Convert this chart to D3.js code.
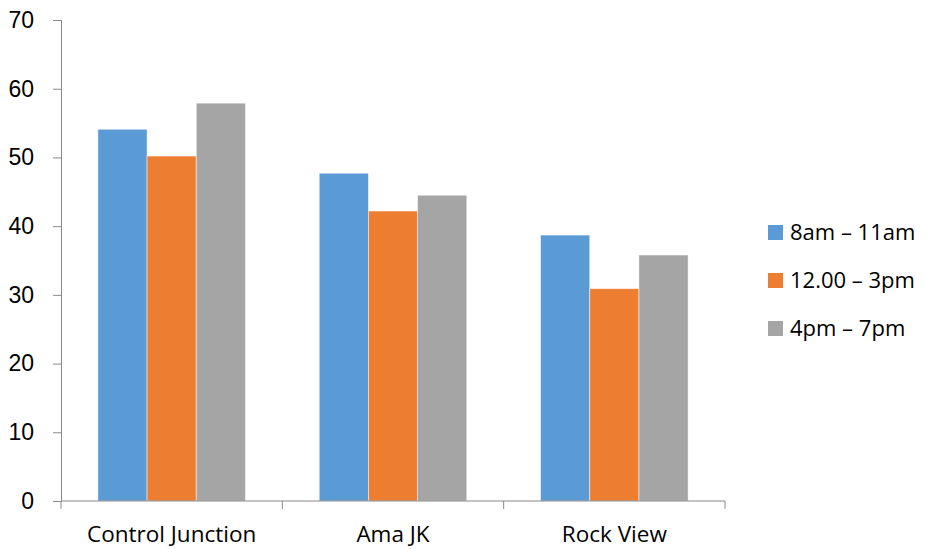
<!DOCTYPE html>
<html><head><meta charset="utf-8">
<script src="https://d3js.org/d3.v7.min.js"></script>
<style>body{margin:0;background:#fff}svg{display:block}text{font-family:"Open Sans",Lato,sans-serif;fill:#000}</style>
</head><body><svg id="c" width="927" height="549"></svg>
<script>
const categories = ["Control Junction", "Ama JK", "Rock View"];
const seriesNames = ["8am – 11am", "12.00 – 3pm", "4pm – 7pm"];
const morning = [54.1, 47.7, 38.7];
const midday = [50.2, 42.2, 30.9];
const evening = [57.9, 44.5, 35.8];
const yTicks = [0, 10, 20, 30, 40, 50, 60, 70];
const colors = ["#5B9BD5", "#ED7D31", "#A5A5A5"];
const seriesValues = [morning, midday, evening];

const svg = d3.select("#c");
const m = {left: 61, right: 725, top: 20, bottom: 501};
const x0 = d3.scaleBand().domain(categories).range([m.left, m.right]).paddingInner(0).paddingOuter(0);
const x1 = d3.scaleBand().domain(seriesNames).range([0, x0.bandwidth()]).paddingOuter(0.75).paddingInner(0);
const y = d3.scaleLinear().domain([0, 70]).range([m.bottom, m.top]);

// bars
categories.forEach((c, ci) => {
  seriesNames.forEach((s, si) => {
    svg.append("rect")
      .attr("x", x0(c) + x1(s))
      .attr("y", y(seriesValues[si][ci]))
      .attr("width", x1.bandwidth())
      .attr("height", y(0) - y(seriesValues[si][ci]))
      .attr("fill", colors[si])
      .attr("stroke", "#ffffff").attr("stroke-opacity", 0.6).attr("stroke-width", 0.8);
  });
});

// y axis
const yAxis = d3.axisLeft(y).tickValues(yTicks).tickSize(8).tickPadding(19);
const gy = svg.append("g").attr("transform", `translate(${m.left},0)`).call(yAxis);
gy.select(".domain").attr("stroke", "#898989");
gy.selectAll(".tick line").attr("stroke", "#898989");
gy.selectAll(".tick text").style("font-family", "Liberation Sans, Arial, sans-serif").attr("font-size", 23).attr("fill", "#000");

// x axis
const gx = svg.append("g").attr("transform", `translate(0,${m.bottom})`);
gx.append("line").attr("x1", m.left).attr("x2", m.right).attr("y1", 0).attr("y2", 0).attr("stroke", "#898989");
const bounds = categories.map(c => x0(c)).concat([m.right]);
gx.selectAll("line.tk").data(bounds).enter().append("line").attr("class", "tk")
  .attr("x1", d => d).attr("x2", d => d).attr("y1", 0).attr("y2", 8).attr("stroke", "#898989");
gx.selectAll("text.cat").data(categories).enter().append("text").attr("class", "cat")
  .attr("x", d => x0(d) + x0.bandwidth() / 2).attr("y", 41)
  .attr("text-anchor", "middle").attr("font-size", 22.5).text(d => d);

// legend
const lg = svg.append("g");
seriesNames.forEach((s, i) => {
  const cy = 232.5 + i * 48;
  lg.append("rect").attr("x", 768).attr("y", cy - 7.5).attr("width", 15).attr("height", 15).attr("fill", colors[i]);
  lg.append("text").attr("x", 790).attr("y", cy).attr("dy", "0.36em").attr("font-size", 22).text(s);
});
</script></body></html>
